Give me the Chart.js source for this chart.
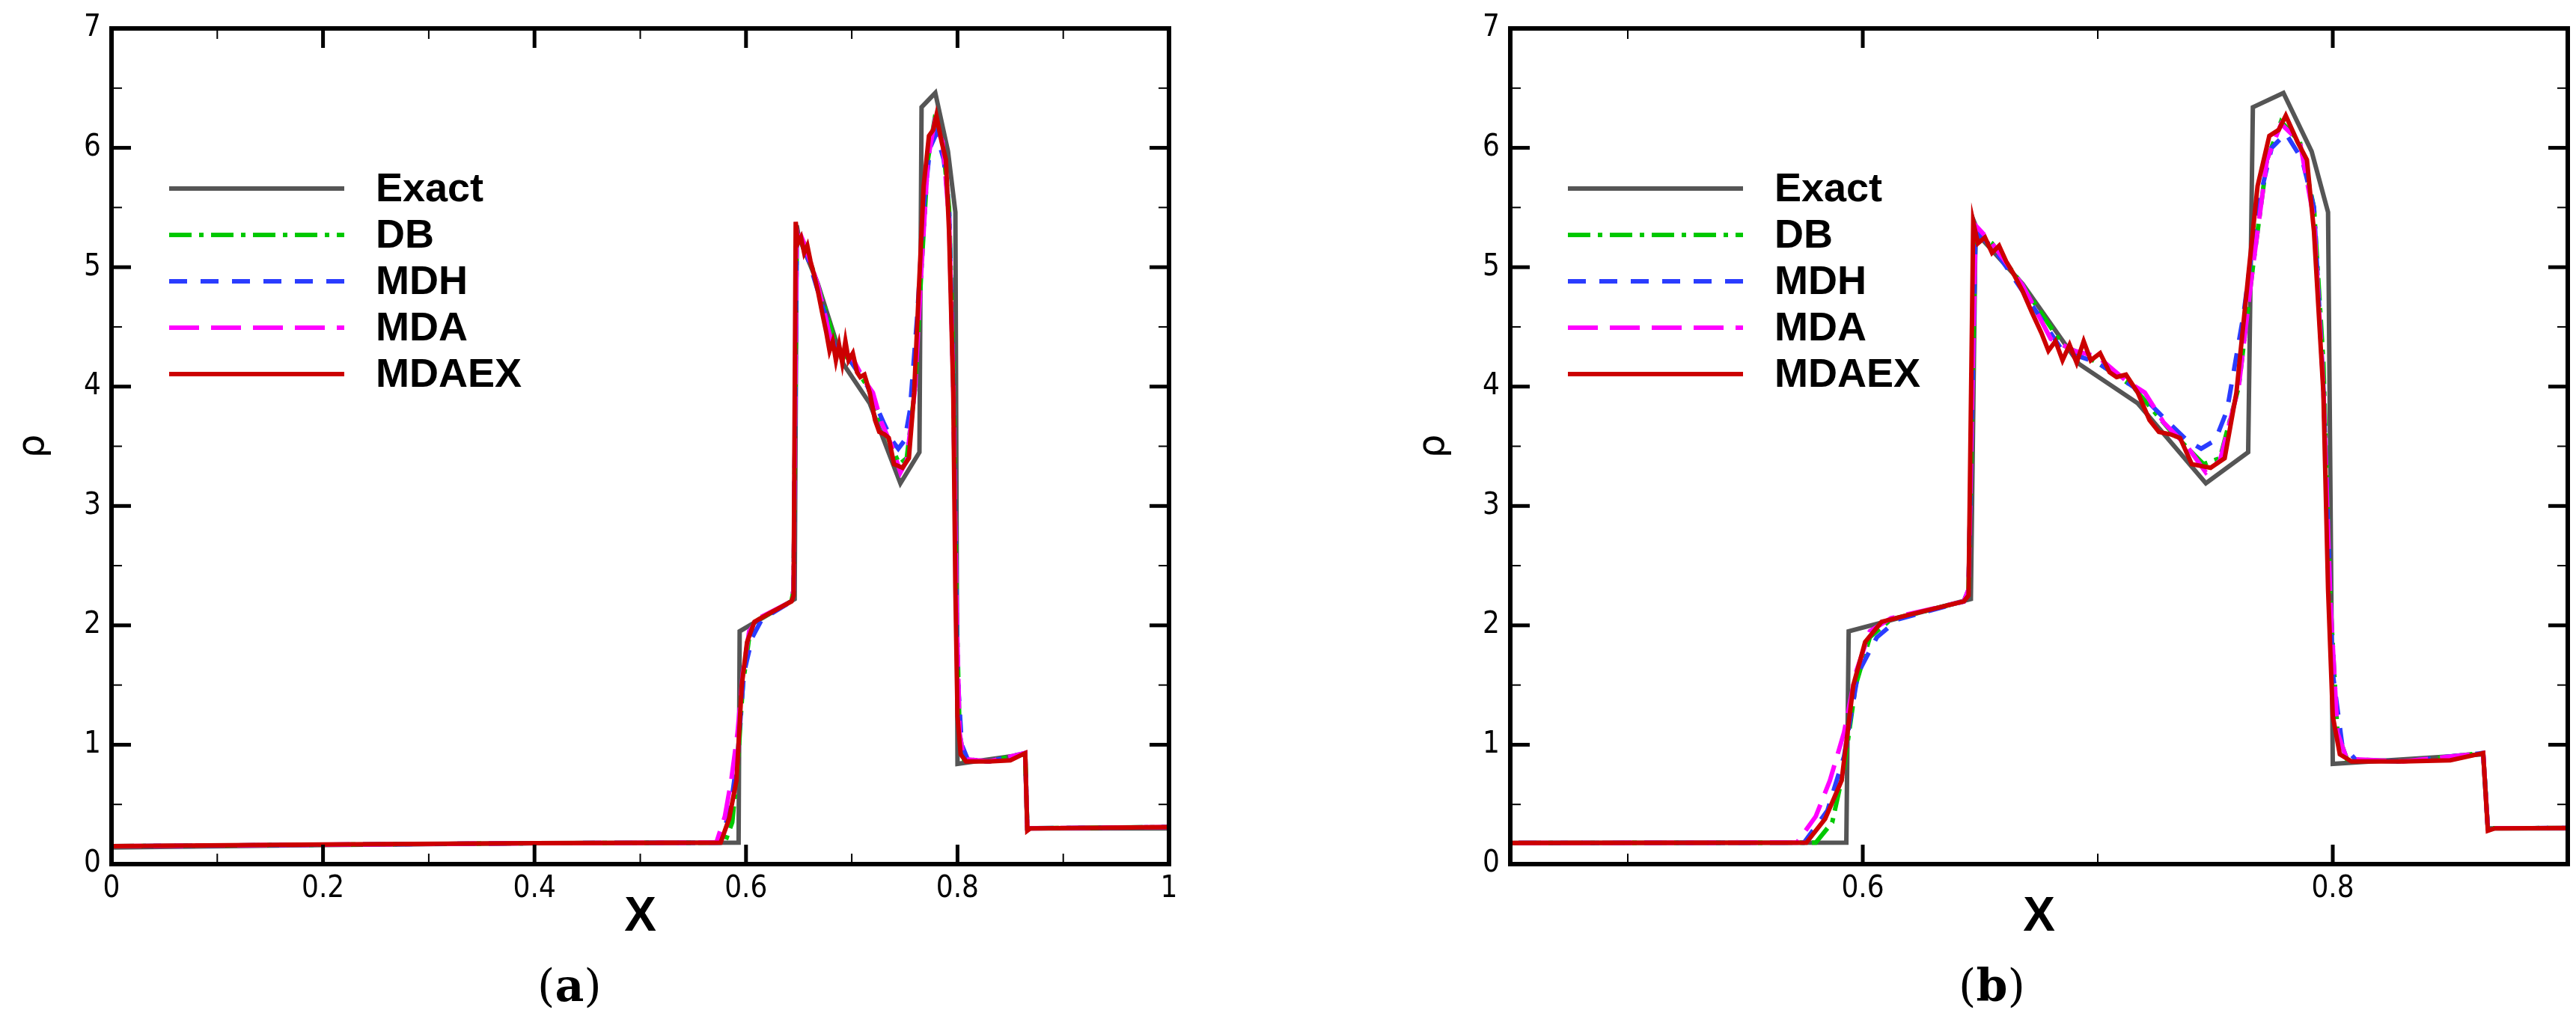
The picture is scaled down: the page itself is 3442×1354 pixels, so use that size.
<!DOCTYPE html>
<html>
<head>
<meta charset="utf-8">
<script src="https://cdn.jsdelivr.net/npm/chart.js@4.4.0/dist/chart.umd.min.js"></script>
<style>
  body { margin: 0; background: #fff; width: 3442px; height: 1354px; position: relative; overflow: hidden; }
  .panel { position: absolute; top: 0; width: 1721px; height: 1354px; }
  .cap { position: absolute; top: 1282px; font-family: 'DejaVu Serif', 'Liberation Serif', serif; font-size: 60px; }
  .cap b { font-weight: bold; }
</style>
</head>
<body>
<div class="panel" style="left:0"><canvas id="chartA" width="1721" height="1354"></canvas></div>
<div class="panel" style="left:1721px"><canvas id="chartB" width="1721" height="1354"></canvas></div>
<div class="cap" style="left:718px">(<b>a</b>)</div>
<div class="cap" style="left:2617px">(<b>b</b>)</div>
<script>
// density profiles, [x, rho]
const exactPts = [[0,0.14],[0.2,0.16],[0.4,0.175],[0.593,0.18],[0.594,1.95],[0.646,2.22],[0.648,5.35],[0.65,5.25],[0.668,4.86],[0.692,4.19],[0.717,3.86],[0.746,3.19],[0.764,3.45],[0.766,6.34],[0.779,6.46],[0.791,5.97],[0.798,5.46],[0.8,0.84],[0.864,0.92],[0.866,0.3],[1,0.3]];
const dbPts = [[0,0.15],[0.4,0.175],[0.58,0.18],[0.587,0.35],[0.592,0.8],[0.597,1.5],[0.603,1.9],[0.612,2.05],[0.643,2.2],[0.645,2.3],[0.648,5.3],[0.655,5.2],[0.668,4.85],[0.685,4.35],[0.7,4.2],[0.715,4.0],[0.73,3.65],[0.745,3.35],[0.752,3.4],[0.76,4.0],[0.766,5.0],[0.772,5.9],[0.778,6.22],[0.786,6.05],[0.792,5.5],[0.796,4.2],[0.799,2.2],[0.802,1.1],[0.806,0.88],[0.83,0.86],[0.864,0.93],[0.866,0.3],[1,0.31]];
const mdhPts = [[0,0.15],[0.4,0.175],[0.575,0.18],[0.585,0.45],[0.592,0.9],[0.598,1.6],[0.606,1.9],[0.615,2.05],[0.643,2.2],[0.645,2.3],[0.648,5.3],[0.656,5.15],[0.668,4.8],[0.685,4.3],[0.7,4.2],[0.715,4.0],[0.73,3.7],[0.738,3.55],[0.744,3.48],[0.75,3.55],[0.755,3.8],[0.762,4.6],[0.768,5.5],[0.774,6.0],[0.78,6.12],[0.787,5.9],[0.792,5.5],[0.796,4.0],[0.8,1.6],[0.804,1.0],[0.81,0.87],[0.83,0.86],[0.864,0.93],[0.866,0.3],[1,0.31]];
const mdaPts = [[0,0.15],[0.4,0.175],[0.572,0.18],[0.58,0.4],[0.586,0.7],[0.592,1.1],[0.597,1.6],[0.603,1.95],[0.612,2.06],[0.643,2.2],[0.645,2.3],[0.648,5.35],[0.655,5.2],[0.668,4.85],[0.68,4.4],[0.69,4.3],[0.7,4.25],[0.712,4.05],[0.72,3.95],[0.728,3.7],[0.738,3.5],[0.746,3.28],[0.752,3.38],[0.76,4.0],[0.766,5.0],[0.772,5.9],[0.778,6.2],[0.786,6.05],[0.792,5.4],[0.796,4.0],[0.799,2.2],[0.802,1.1],[0.806,0.88],[0.83,0.86],[0.864,0.93],[0.866,0.3],[1,0.31]];
const mdaexPts = [[0,0.15],[0.2,0.165],[0.4,0.175],[0.576,0.18],[0.584,0.38],[0.591,0.7],[0.596,1.5],[0.601,1.86],[0.608,2.03],[0.622,2.1],[0.643,2.2],[0.645,2.25],[0.647,5.38],[0.649,5.2],[0.652,5.25],[0.655,5.12],[0.658,5.18],[0.661,5.05],[0.664,4.95],[0.668,4.8],[0.672,4.62],[0.676,4.45],[0.679,4.3],[0.682,4.38],[0.685,4.22],[0.688,4.35],[0.691,4.2],[0.694,4.38],[0.697,4.22],[0.701,4.28],[0.705,4.12],[0.708,4.08],[0.712,4.1],[0.717,3.95],[0.722,3.72],[0.726,3.62],[0.731,3.6],[0.735,3.57],[0.74,3.35],[0.748,3.32],[0.754,3.4],[0.759,3.95],[0.764,4.92],[0.768,5.68],[0.773,6.1],[0.777,6.15],[0.78,6.27],[0.785,6.05],[0.789,5.9],[0.792,5.3],[0.796,3.95],[0.798,2.3],[0.8,1.24],[0.803,0.92],[0.808,0.86],[0.83,0.86],[0.85,0.87],[0.864,0.93],[0.866,0.28],[0.869,0.3],[1,0.31]];

const seriesNames = ['Exact', 'DB', 'MDH', 'MDA', 'MDAEX'];
const seriesPts = [exactPts, dbPts, mdhPts, mdaPts, mdaexPts];
const seriesColors = ['#555555', '#00c800', '#2a3cff', '#ff00ff', '#cc0000'];
const seriesDash = [[], [30, 10, 6, 10], [24, 18], [40, 16], []];

const yMajor = [0, 1, 2, 3, 4, 5, 6, 7];
const yMinor = [0.5, 1.5, 2.5, 3.5, 4.5, 5.5, 6.5];
const xMajorA = [0, 0.2, 0.4, 0.6, 0.8, 1];
const xMinorA = [0.1, 0.3, 0.5, 0.7, 0.9];
const xMajorB = [0.6, 0.8];
const xMinorB = [0.5, 0.7, 0.9];

const tickFont = { family: "'Liberation Sans Narrow', 'DejaVu Sans Condensed', 'Liberation Sans', sans-serif", size: 40 };

// frame on all four sides, inward ticks, and the line legend
const framePlugin = {
  id: 'frame',
  afterDatasetsDraw(chart, args, opts) {
    const ctx = chart.ctx, a = chart.chartArea;
    const xs = chart.scales.x, ys = chart.scales.y;
    ctx.save();
    ctx.strokeStyle = '#000';
    ctx.lineWidth = 3;
    const tick = (x1, y1, x2, y2) => { ctx.beginPath(); ctx.moveTo(x1, y1); ctx.lineTo(x2, y2); ctx.stroke(); };
    opts.xMajor.forEach(v => { const p = xs.getPixelForValue(v); ctx.lineWidth = 5; tick(p, a.bottom, p, a.bottom - 26); tick(p, a.top, p, a.top + 26); });
    opts.xMinor.forEach(v => { const p = xs.getPixelForValue(v); ctx.lineWidth = 2; tick(p, a.bottom, p, a.bottom - 14); tick(p, a.top, p, a.top + 14); });
    yMajor.forEach(v => { const p = ys.getPixelForValue(v); ctx.lineWidth = 5; tick(a.left, p, a.left + 26, p); tick(a.right, p, a.right - 26, p); });
    yMinor.forEach(v => { const p = ys.getPixelForValue(v); ctx.lineWidth = 2; tick(a.left, p, a.left + 14, p); tick(a.right, p, a.right - 14, p); });
    ctx.lineWidth = 6;
    ctx.strokeRect(a.left, a.top, a.right - a.left, a.bottom - a.top);

    // legend
    ctx.font = "bold 54px 'Liberation Sans', Arial, sans-serif";
    ctx.textBaseline = 'middle';
    chart.data.datasets.forEach((ds, i) => {
      const y = a.top + 214 + i * 62;
      ctx.strokeStyle = ds.borderColor;
      ctx.lineWidth = 6;
      ctx.setLineDash(ds.borderDash);
      tick(a.left + 77, y, a.left + 311, y);
      ctx.setLineDash([]);
      ctx.fillStyle = '#000';
      ctx.fillText(ds.label, a.left + 353, y + 2);
    });
    ctx.restore();
  }
};

function makeChart(id, xMin, xMax, xMajor, xMinor, padLeft, yWidth, padRight) {
  const datasets = seriesNames.map((name, i) => ({
    label: name,
    data: seriesPts[i].map(p => ({ x: p[0], y: p[1] })),
    borderColor: seriesColors[i],
    borderDash: seriesDash[i],
    borderWidth: 6,
    pointRadius: 0,
    showLine: true,
    fill: false,
    tension: 0,
    order: 5 - i
  }));
  return new Chart(document.getElementById(id), {
    type: 'scatter',
    data: { datasets: datasets },
    plugins: [framePlugin],
    options: {
      responsive: false,
      animation: false,
      layout: { padding: { left: padLeft, right: padRight, top: 30, bottom: 89 } },
      plugins: {
        legend: { display: false },
        tooltip: { enabled: false },
        frame: { xMajor: xMajor, xMinor: xMinor }
      },
      scales: {
        x: {
          type: 'linear', min: xMin, max: xMax,
          afterBuildTicks: s => { s.ticks = xMajor.map(v => ({ value: v })); },
          afterFit: s => { s.height = 110; },
          grid: { display: false, drawTicks: false },
          border: { display: false },
          ticks: { font: tickFont, color: '#000', padding: 10, maxRotation: 0, callback: v => String(Number(v.toFixed(2))) },
          title: { display: true, text: 'X', color: '#000', padding: 0, font: { family: "'Liberation Sans', Arial, sans-serif", size: 64, weight: 'bold' } }
        },
        y: {
          type: 'linear', min: 0, max: 7,
          afterBuildTicks: s => { s.ticks = yMajor.map(v => ({ value: v })); },
          afterFit: s => { s.width = yWidth; },
          grid: { display: false, drawTicks: false },
          border: { display: false },
          ticks: { font: tickFont, color: '#000', padding: 14 },
          title: { display: true, text: 'ρ', color: '#000', padding: 0, font: { family: "'DejaVu Sans', sans-serif", size: 50 } }
        }
      }
    }
  });
}

makeChart('chartA', 0, 1, xMajorA, xMinorA, 15, 134, 159);
makeChart('chartB', 0.45, 0.9, xMajorB, xMinorB, 165, 132, 11);
</script>
</body>
</html>
